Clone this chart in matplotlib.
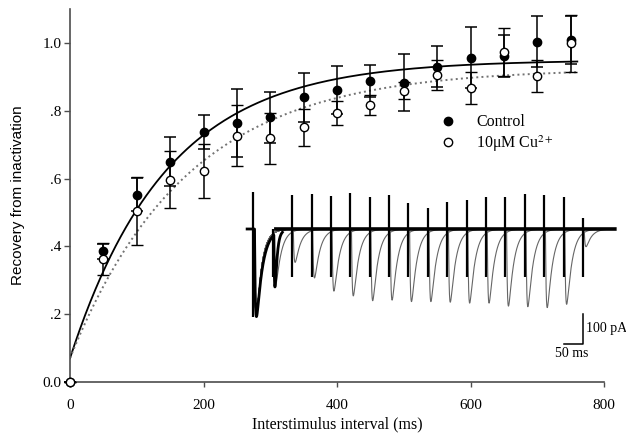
import numpy as np
import matplotlib
matplotlib.use("Agg")
import matplotlib.pyplot as plt

plt.rcParams['font.family'] = ['Liberation Serif', 'DejaVu Serif']
plt.rcParams['mathtext.fontset'] = 'stix'

# intervalle entre stimuli (ms) et récupération de l'inactivation
intervals = [0, 50, 100, 150, 200, 250, 300, 350, 400, 450, 500, 550, 600, 650, 700, 750]
control = [0, 0.385, 0.553, 0.650, 0.737, 0.763, 0.781, 0.840, 0.861, 0.888, 0.883, 0.930, 0.957, 0.962, 1.004, 1.009]
control_err = [0, 0.022, 0.050, 0.072, 0.050, 0.100, 0.075, 0.072, 0.070, 0.047, 0.084, 0.060, 0.090, 0.062, 0.075, 0.070]
cu = [0, 0.363, 0.504, 0.596, 0.622, 0.726, 0.719, 0.751, 0.794, 0.818, 0.859, 0.906, 0.866, 0.974, 0.903, 0.999]
cu_err = [0, 0.047, 0.100, 0.084, 0.080, 0.090, 0.075, 0.054, 0.035, 0.030, 0.025, 0.045, 0.047, 0.070, 0.047, 0.085]

# ajustements exponentiels : (y0, ymax, tau en ms)
fit_control = (0.07, 0.95, 145.0)
fit_cu = (0.07, 0.925, 175.0)

# encart : courants (pA) pour chaque intervalle
pulse_intervals = [50, 100, 150, 200, 250, 300, 350, 400, 450, 500, 550, 600, 650, 700, 750, 800, 850]
second_peaks = [176, 111, 163, 207, 223, 239, 237, 242, 242, 244, 247, 247, 257, 259, 262, 251, 59]
artifact_up = [0, 113, 117, 110, 119, 106, 113, 88, 69, 91, 97, 108, 106, 117, 113, 108, 36]
artifact_down = 160
first_peak = 292
first_artifact_up = 124


def fit_curve(t, p):
    y0, ymax, tau = p
    return y0 + (ymax - y0) * (1 - np.exp(-t / tau))


def current(t, start, amp, ta=2.5, ti=14.0):
    s = np.clip(t - start - 3.0, 0, None)
    g = (1 - np.exp(-s / ta)) * np.exp(-s / ti)
    ss = np.linspace(0, 80, 4000)
    gmax = np.max((1 - np.exp(-ss / ta)) * np.exp(-ss / ti))
    return -amp * g / gmax


fig = plt.figure(figsize=(6.26, 4.37), dpi=100)
ax = fig.add_axes([70 / 626, 1 - 382 / 437, 534 / 626, 372.9 / 437])

t_fit = np.linspace(0, 760, 300)
ax.plot(t_fit, fit_curve(t_fit, fit_control), color='k', lw=1.3, zorder=2)
ax.plot(t_fit, fit_curve(t_fit, fit_cu), color='0.45', lw=1.4, ls=':', zorder=2)

eb1 = ax.errorbar(intervals, control, yerr=control_err, fmt='o', color='k', ms=6,
                  ecolor='k', elinewidth=1.1, capsize=4.5, capthick=1.1,
                  zorder=3, clip_on=False)
eb2 = ax.errorbar(intervals, cu, yerr=cu_err, fmt='o', color='k', mfc='white', mec='k',
                  mew=1.0, ms=6, ecolor='k', elinewidth=1.1, capsize=4.5, capthick=1.1,
                  zorder=4, clip_on=False)

ax.set_xlim(0, 800)
ax.set_ylim(0, 1.1)
ax.set_xticks([0, 200, 400, 600, 800])
ax.set_yticks([0, 0.2, 0.4, 0.6, 0.8, 1.0])
ax.set_yticklabels(['0.0', '.2', '.4', '.6', '.8', '1.0'])
ax.tick_params(axis='x', length=3.5, width=1.0, pad=9, labelsize=11, color='0.3')
ax.tick_params(axis='y', length=4.5, width=1.0, pad=1.5, labelsize=11, color='0.3')
for side in ['top', 'right']:
    ax.spines[side].set_visible(False)
for side in ['left', 'bottom']:
    ax.spines[side].set_color('0.3')
    ax.spines[side].set_linewidth(1.2)

ax.set_xlabel('Interstimulus interval (ms)', fontsize=11.5, labelpad=3)
ax.set_ylabel('Recovery from inactivation', fontsize=11, family='Liberation Sans', labelpad=13)

ax.legend([eb1[0], eb2[0]], ['Control', '10\u03bcM Cu$^{2+}$'],
          loc='upper left', bbox_to_anchor=(0.693, 0.718), frameon=False,
          fontsize=11.5, handlelength=1.0, handletextpad=1.25, borderpad=0,
          borderaxespad=0, labelspacing=0.2, numpoints=1)

# encart : traces de courant
ax2 = fig.add_axes([241.7 / 626, 1 - 361 / 437, 384 / 626, 177 / 437])
ax2.set_xlim(-30, 960)
ax2.set_ylim(-440, 150)
ax2.axis('off')

t = np.linspace(-16, 932, 6000)
for d, a in zip(pulse_intervals, second_peaks):
    trace = current(t, 0, first_peak) + current(t, d, a)
    ax2.plot(t, trace, color='0.4', lw=0.8)

t_first = t[t < 75]
ax2.plot(t_first, current(t_first, 0, first_peak, ti=16.0)
         + current(t_first, pulse_intervals[0], second_peaks[0], ti=5.0),
         color='k', lw=2.0)
t_base = t[t > 58]
ax2.plot(t_base, np.zeros_like(t_base), color='k', lw=2.6)

ax2.vlines(pulse_intervals, -artifact_down, artifact_up, color='k', lw=1.6)
ax2.vlines([0], -first_peak, first_artifact_up, color='k', lw=1.6)

# barre d'échelle
ax2.plot([800, 850, 850], [-383, -383, -283], color='k', lw=1.1)
ax2.text(858, -333, '100 pA', fontsize=10, va='center', ha='left')
ax2.text(822, -392, '50 ms', fontsize=10, va='top', ha='center')

fig.savefig('out.png', dpi=100)
